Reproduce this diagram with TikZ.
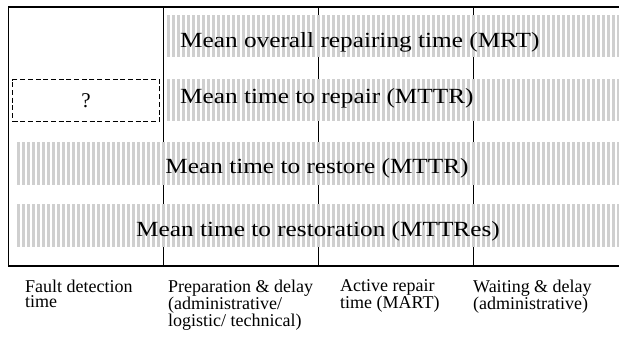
\documentclass[tikz,border=0pt]{standalone}
\usepackage{fontspec}
\setmainfont{Liberation Serif}
\newfontfamily\bandfont[FakeStretch=1.17]{Liberation Serif}
\newcommand\stripeband[4]{%
  \begin{scope}
    \clip (#1,#2) rectangle (#3,#4);
    \foreach \k in {0,...,124} \fill[stripefill] ({2+5*\k},#2) rectangle ++(3,{#4-#2});
  \end{scope}}
\begin{document}
\begin{tikzpicture}[x=1pt,y=-1pt,
  stripefill/.style={fill=black!19},
  bandtext/.style={font=\bandfont\fontsize{21.6}{24}\selectfont, inner sep=0, anchor=base},
  labeltext/.style={font=\fontsize{18}{15.2}\selectfont, align=left, anchor=north west, inner sep=0},
  rulestyle/.style={line width=2pt},
  divider/.style={line width=0.9pt},
  dashbox/.style={draw, dash pattern=on 5pt off 2.7pt, line width=1.3pt, minimum width=147pt, minimum height=42pt, inner sep=0, font=\fontsize{21}{24}\selectfont}
]
\useasboundingbox (0,0) rectangle (619,338);
% bands
\stripeband{167}{15}{619}{57}
\stripeband{167}{79}{619}{121}
\stripeband{16}{142}{619}{185}
\stripeband{16}{204}{619}{247}
% dividers
\draw[divider] (163,7) -- (163,142);
\foreach \x in {163,318,473} {
  \draw[divider] (\x,185) -- (\x,204);
  \draw[divider] (\x,247) -- (\x,266);
}
\foreach \x in {318,473} {
  \draw[divider] (\x,7) -- (\x,15);
  \draw[divider] (\x,57) -- (\x,79);
  \draw[divider] (\x,121) -- (\x,142);
}
% band texts
\node[bandtext, anchor=base west] (t1) at (180,47) {Mean overall repairing time (MRT)};
\node[bandtext, anchor=base west] (t2) at (180,103) {Mean time to repair (MTTR)};
\node[bandtext] (t3) at (317,173.5) {Mean time to restore (MTTR)};
\node[bandtext] (t4) at (318,236) {Mean time to restoration (MTTRes)};
% dashed box
\node[dashbox] (q) at (86,100.5) {?};
% frame
\draw[rulestyle] (8,7) -- (619,7);
\draw[rulestyle] (8,266) -- (619,266);
\draw[line width=1pt] (8,7) -- (8,266);
% labels
\node[labeltext] (l1) at (25,279.5) {Fault detection\\time};
\node[labeltext] (l2) at (168,279.5) {Preparation \& delay\\(administrative/\\logistic/ technical)};
\node[labeltext] (l3) at (340,279.5) {Active repair\\time (MART)};
\node[labeltext] (l4) at (473,279.5) {Waiting \& delay\\(administrative)};
\end{tikzpicture}
\end{document}
